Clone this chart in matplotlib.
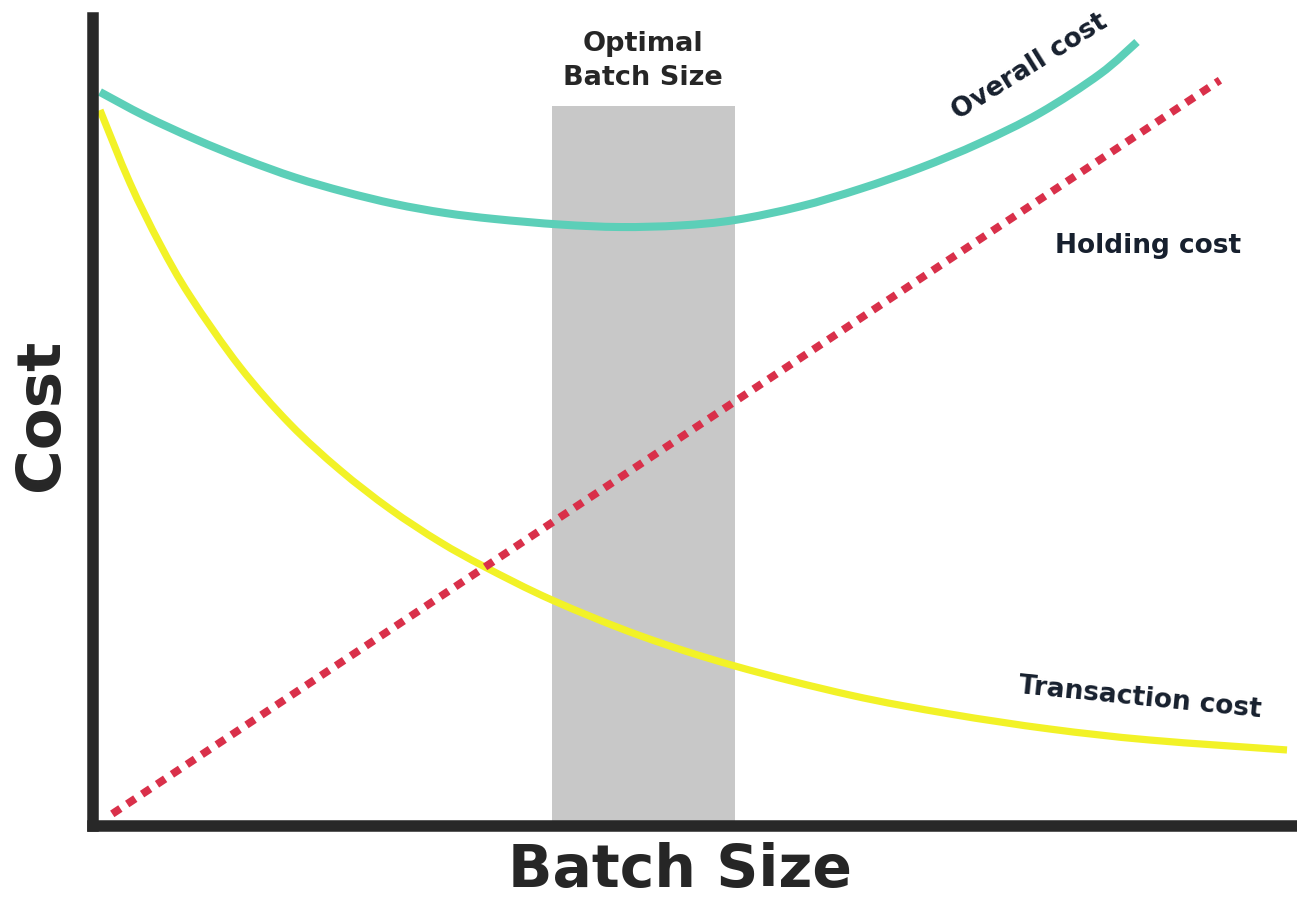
import matplotlib
matplotlib.use("Agg")
import matplotlib.pyplot as plt
from matplotlib.path import Path
from matplotlib.patches import PathPatch

# Batch size / cost readings (arbitrary units, 0-100 scale)
overall_x = [0.58, 4.32, 8.47, 12.62, 16.78, 20.93, 25.08, 29.24, 33.39, 38.79,
             43.77, 48.75, 53.32, 58.72, 63.70, 68.69, 73.67, 78.65, 83.64, 86.71]
overall_y = [90.84, 87.87, 85.02, 82.49, 80.26, 78.47, 76.98, 75.87, 75.12, 74.44,
             74.13, 74.32, 75.00, 76.67, 78.84, 81.44, 84.53, 88.24, 93.07, 97.03]

transaction_x = [0.58, 3.07, 5.56, 8.06, 12.21, 16.36, 20.51, 24.67, 28.82, 32.56,
                 38.12, 45.43, 53.32, 62.87, 71.18, 79.49, 87.79, 99.17]
transaction_y = [88.61, 79.58, 72.03, 65.59, 56.81, 49.75, 44.06, 39.23, 35.15, 32.05,
                 27.97, 23.56, 19.80, 16.21, 13.86, 12.00, 10.64, 9.41]

holding_x = [1.6, 32.6, 93.6]
holding_y = [1.5, 32.1, 92.3]

optimal_range = [38.1, 53.3]
optimal_height = 89.1


def smooth_path(xs, ys):
    """Catmull-Rom curve through the given points, as cubic Bezier segments."""
    pts = list(zip(xs, ys))
    verts = [pts[0]]
    codes = [Path.MOVETO]
    n = len(pts)
    for i in range(n - 1):
        p0 = pts[i - 1] if i > 0 else pts[i]
        p1 = pts[i]
        p2 = pts[i + 1]
        p3 = pts[i + 2] if i + 2 < n else pts[i + 1]
        c1 = (p1[0] + (p2[0] - p0[0]) / 6, p1[1] + (p2[1] - p0[1]) / 6)
        c2 = (p2[0] - (p3[0] - p1[0]) / 6, p2[1] - (p3[1] - p1[1]) / 6)
        verts += [c1, c2, p2]
        codes += [Path.CURVE4] * 3
    return Path(verts, codes)


W, H = 1297, 905
fig = plt.figure(figsize=(W / 100, H / 100), dpi=100)
fig.patch.set_facecolor("white")

# axes frame in pixel terms
left_px, right_px, bottom_px, top_px = 93, 1297, 826, 18
ax = fig.add_axes([left_px / W, 1 - bottom_px / H,
                   (right_px - left_px) / W, (bottom_px - top_px) / H])
ax.set_xlim(0, 100)
ax.set_ylim(0, 100)
ax.set_xticks([])
ax.set_yticks([])
for s in ("top", "right"):
    ax.spines[s].set_visible(False)
for s in ("left", "bottom"):
    ax.spines[s].set_linewidth(8.3)
    ax.spines[s].set_color("#282828")
    ax.spines[s].set_capstyle("projecting")
    ax.spines[s].set_zorder(5)

# optimal batch size band
ax.bar((optimal_range[0] + optimal_range[1]) / 2, optimal_height,
       width=optimal_range[1] - optimal_range[0], bottom=0,
       color="#c8c8c8", zorder=1, linewidth=0)

ax.add_patch(PathPatch(smooth_path(transaction_x, transaction_y), fill=False,
                       edgecolor="#f2f227", lw=5.2, capstyle="butt",
                       joinstyle="round", zorder=3, clip_on=False))
ax.plot(holding_x, holding_y, color="#d9304a", lw=5.6,
        linestyle=(0, (1.25, 1.05)), dash_capstyle="butt", zorder=3)
ax.add_patch(PathPatch(smooth_path(overall_x, overall_y), fill=False,
                       edgecolor="#5ccfb8", lw=5.8, capstyle="butt",
                       joinstyle="round", zorder=4, clip_on=False))

FONT = "DejaVu Sans"
label_font = dict(family=FONT, weight="bold", color="#17202e", fontsize=19)

ax.text(45.7, 94.7, "Optimal\nBatch Size", ha="center", va="center",
        linespacing=1.42, family=FONT, weight="bold", color="#262626",
        fontsize=19.5, clip_on=False)
ax.text(77.8, 93.9, "Overall cost", ha="center", va="center", rotation=32,
        rotation_mode="anchor", **label_font)
ax.text(87.6, 71.8, "Holding cost", ha="center", va="center", **label_font)
ax.text(87.0, 15.8, "Transaction cost", ha="center", va="center", rotation=-5.7,
        rotation_mode="anchor", **label_font)

fig.text(680 / W, 1 - 870 / H, "Batch Size", ha="center", va="center",
         family=FONT, weight="bold", color="#262626", fontsize=42)
fig.text(42 / W, 1 - 415 / H, "Cost", ha="center", va="center", rotation=90,
         family=FONT, weight="bold", color="#262626", fontsize=44)

fig.savefig("out.png", dpi=100, facecolor="white")
